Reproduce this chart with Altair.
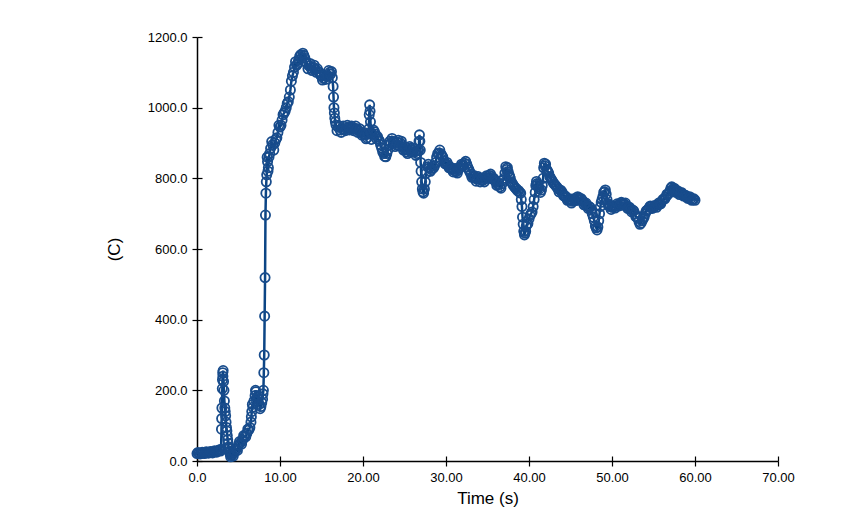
import altair as alt
import pandas as pd

# Time (s) - main readings
times = [
    0.0, 0.25, 0.5, 0.75, 1.0, 1.25, 1.5, 1.75, 2.0, 2.25, 2.5, 2.75,
    2.9, 2.95, 3.0, 3.05, 3.1, 3.15, 3.2, 3.3, 3.4, 3.5, 3.6, 3.7, 3.8, 3.9, 4.0, 4.1,
    4.25, 4.5, 4.75, 5.0, 5.25, 5.5, 5.75, 6.0, 6.25, 6.5, 6.6, 6.75, 7.0, 7.1, 7.25,
    7.5, 7.7, 7.9, 8.0, 8.1, 8.15, 8.2, 8.25, 8.3, 8.4, 8.5, 8.6, 8.75, 9.0, 9.25,
    9.5, 9.75, 10.0, 10.25, 10.5, 10.75, 11.0, 11.25, 11.5, 11.75, 12.0, 12.25, 12.5,
    12.75, 13.0, 13.25, 13.5, 13.75, 14.0, 14.25, 14.5, 14.75, 15.0, 15.25, 15.5,
    15.75, 16.0, 16.2, 16.4, 16.5, 16.6, 16.75, 17.0, 17.25, 17.5, 17.75, 18.0,
    18.25, 18.5, 18.75, 19.0, 19.25, 19.5, 19.75, 20.0, 20.25, 20.5, 20.7, 20.8,
    20.9, 21.0, 21.25, 21.5, 21.75, 22.0, 22.25, 22.5, 22.75, 23.0, 23.25, 23.5,
    23.75, 24.0, 24.25, 24.5, 24.75, 25.0, 25.25, 25.5, 25.75, 26.0, 26.25, 26.5,
    26.7, 26.8, 26.9, 27.0, 27.15, 27.3, 27.5, 27.75, 28.0, 28.25, 28.5, 28.75,
    29.0, 29.25, 29.5, 29.75, 30.0, 30.25, 30.5, 30.75, 31.0, 31.25, 31.5, 31.75,
    32.0, 32.25, 32.5, 32.75, 33.0, 33.25, 33.5, 33.75, 34.0, 34.25, 34.5, 34.75,
    35.0, 35.25, 35.5, 35.75, 36.0, 36.25, 36.5, 36.75, 37.0, 37.2, 37.4, 37.6,
    37.75, 38.0, 38.25, 38.5, 38.75, 39.0, 39.15, 39.3, 39.45, 39.6, 39.75, 40.0,
    40.25, 40.5, 40.75, 40.9, 41.0, 41.25, 41.5, 41.7, 41.85, 42.0, 42.25, 42.5,
    42.75, 43.0, 43.25, 43.5, 43.75, 44.0, 44.25, 44.5, 44.75, 45.0, 45.25, 45.5,
    45.75, 46.0, 46.25, 46.5, 46.75, 47.0, 47.25, 47.5, 47.75, 48.0, 48.2, 48.4,
    48.6, 48.8, 49.0, 49.2, 49.4, 49.6, 49.8, 50.0, 50.25, 50.5, 50.75, 51.0,
    51.25, 51.5, 51.75, 52.0, 52.25, 52.5, 52.75, 53.0, 53.25, 53.5, 53.75, 54.0,
    54.25, 54.5, 54.75, 55.0, 55.25, 55.5, 55.75, 56.0, 56.25, 56.5, 56.75, 57.0,
    57.2, 57.4, 57.6, 57.8, 58.0, 58.25, 58.5, 58.75, 59.0, 59.25, 59.5, 59.75, 60.0,
]

# Temperature (C) - main readings
temps = [
    21, 22, 22, 23, 23, 24, 25, 25, 26, 27, 28, 30,
    33, 90, 150, 205, 250, 256, 225, 170, 140, 110, 85, 60, 40, 28, 20, 16,
    18, 25, 33, 45, 52, 60, 70, 78, 88, 110, 140, 152, 185, 196, 180,
    160, 154, 175, 200, 300, 410, 519, 696, 758, 810, 847, 830, 870, 904, 880,
    910, 930, 945, 965, 985, 1000, 1017, 1050, 1090, 1115, 1120, 1135, 1150,
    1154, 1140, 1125, 1118, 1112, 1115, 1108, 1110, 1100, 1090, 1083, 1080,
    1090, 1100, 1102, 1060, 1000, 970, 951, 945, 937, 940, 938, 942,
    945, 943, 940, 942, 940, 935, 930, 925, 923, 915, 940, 1008,
    960, 910, 937, 925, 918, 905, 885, 870, 861, 880, 905, 913,
    900, 895, 908, 900, 890, 882, 875, 880, 885, 880, 875, 870,
    880, 923, 880, 820, 770, 758, 790, 833, 830, 825, 830, 845,
    870, 880, 865, 850, 840, 838, 832, 825, 822, 819, 825, 832,
    838, 843, 840, 825, 812, 805, 800, 798, 800, 796, 795, 800,
    805, 808, 805, 800, 790, 782, 776, 785, 800, 833, 830, 810,
    800, 785, 776, 770, 765, 758, 720, 670, 640, 650, 670, 685,
    700, 720, 760, 791, 780, 770, 767, 800, 843, 840, 820, 805,
    795, 785, 778, 770, 767, 760, 750, 745, 740, 738, 735, 737,
    742, 745, 743, 735, 728, 722, 720, 710, 690, 665, 654, 680,
    720, 740, 760, 767, 740, 722, 720, 718, 720, 722, 725, 728,
    729, 727, 722, 718, 712, 710, 700, 690, 678, 673, 685, 700,
    710, 718, 720, 718, 722, 725, 727, 735, 742, 748, 755, 765,
    776, 770, 765, 762, 760, 758, 755, 752, 748, 745, 743, 740, 738,
]

# Time (s) - in-between readings (scatter of the measured band)
times_b = [
    0.12, 0.37, 0.62, 0.87, 1.12, 1.37, 1.62, 1.87, 2.12, 2.37, 2.62, 2.82,
    2.97, 3.07, 3.12, 3.25, 3.35, 3.45, 3.55, 3.65, 3.75, 3.85, 3.95, 4.05,
    4.17, 4.37, 4.62, 4.87, 5.12, 5.37, 5.62, 5.87, 6.12, 6.37, 6.55, 6.67,
    6.87, 7.05, 7.17, 7.37, 7.6, 7.8, 7.95, 8.05,
    8.35, 8.45, 8.55, 8.67, 8.87, 9.12, 9.37, 9.62, 9.87, 10.12, 10.37, 10.62,
    10.87, 11.12, 11.37, 11.62, 11.87, 12.12, 12.37, 12.62, 12.87, 13.12, 13.37,
    13.62, 13.87, 14.12, 14.37, 14.62, 14.87, 15.12, 15.37, 15.62, 15.87, 16.1,
    16.3, 16.45, 16.55, 16.67, 16.87, 17.12, 17.37, 17.62, 17.87, 18.12, 18.37,
    18.62, 18.87, 19.12, 19.37, 19.62, 19.87, 20.12, 20.37, 20.6, 20.75, 20.85,
    20.95, 21.12, 21.37, 21.62, 21.87, 22.12, 22.37, 22.62, 22.87, 23.12, 23.37,
    23.62, 23.87, 24.12, 24.37, 24.62, 24.87, 25.12, 25.37, 25.62, 25.87, 26.12,
    26.37, 26.6, 26.75, 26.85, 26.95, 27.07, 27.22, 27.4, 27.62, 27.87, 28.12,
    28.37, 28.62, 28.87, 29.12, 29.37, 29.62, 29.87, 30.12, 30.37, 30.62, 30.87,
    31.12, 31.37, 31.62, 31.87, 32.12, 32.37, 32.62, 32.87, 33.12, 33.37, 33.62,
    33.87, 34.12, 34.37, 34.62, 34.87, 35.12, 35.37, 35.62, 35.87, 36.12, 36.37,
    36.62, 36.87, 37.1, 37.3, 37.5, 37.67, 37.87, 38.12, 38.37, 38.62, 38.87,
    39.07, 39.22, 39.37, 39.52, 39.67, 39.87, 40.12, 40.37, 40.62, 40.82, 40.95,
    41.12, 41.37, 41.6, 41.77, 41.92, 42.12, 42.37, 42.62, 42.87, 43.12, 43.37,
    43.62, 43.87, 44.12, 44.37, 44.62, 44.87, 45.12, 45.37, 45.62, 45.87, 46.12,
    46.37, 46.62, 46.87, 47.12, 47.37, 47.62, 47.87, 48.1, 48.3, 48.5, 48.7,
    48.9, 49.1, 49.3, 49.5, 49.7, 49.9, 50.12, 50.37, 50.62, 50.87, 51.12, 51.37,
    51.62, 51.87, 52.12, 52.37, 52.62, 52.87, 53.12, 53.37, 53.62, 53.87, 54.12,
    54.37, 54.62, 54.87, 55.12, 55.37, 55.62, 55.87, 56.12, 56.37, 56.62, 56.87,
    57.1, 57.3, 57.5, 57.7, 57.9, 58.12, 58.37, 58.62, 58.87, 59.12, 59.37,
    59.62, 59.87,
]

# Temperature (C) - in-between readings
temps_b = [
    24, 20, 25, 21, 26, 22, 27, 23, 29, 25, 31, 28,
    120, 230, 240, 200, 150, 128, 95, 72, 50, 35, 24, 12,
    22, 14, 34, 30, 55, 48, 72, 68, 90, 95, 125, 160,
    170, 200, 170, 185, 148, 165, 190, 250,
    790, 860, 820, 860, 885, 895, 900, 915, 950, 950, 980, 990,
    1012, 1030, 1075, 1100, 1130, 1125, 1145, 1140, 1148, 1130, 1110,
    1125, 1105, 1120, 1100, 1102, 1092, 1078, 1090, 1088, 1105, 1095,
    1085, 1030, 985, 960, 935, 948, 930, 948, 935, 950, 937,
    948, 935, 948, 930, 940, 922, 930, 912, 925, 980, 990,
    930, 925, 932, 912, 910, 895, 875, 862, 870, 895, 900,
    905, 890, 902, 893, 905, 880, 888, 870, 890, 875, 885,
    865, 878, 905, 905, 845, 790, 762, 770, 815, 840, 820,
    835, 835, 860, 872, 870, 860, 842, 845, 830, 830, 818,
    828, 815, 830, 840, 836, 848, 832, 818, 803, 808, 792,
    805, 790, 800, 790, 807, 800, 812, 798, 795, 780, 785,
    772, 795, 815, 825, 818, 805, 790, 780, 772, 765, 760,
    740, 690, 650, 645, 665, 672, 695, 705, 740, 780, 785,
    775, 760, 780, 830, 835, 825, 815, 800, 790, 782, 775,
    762, 765, 752, 750, 738, 742, 730, 742, 737, 748, 738,
    740, 725, 730, 715, 718, 700, 680, 660, 662, 700, 732,
    748, 762, 755, 728, 725, 712, 722, 716, 728, 722, 732, 724,
    730, 715, 718, 705, 708, 692, 688, 670, 680, 690, 708,
    712, 722, 715, 723, 718, 730, 728, 740, 742, 755, 758,
    772, 768, 772, 760, 765, 754, 760, 750, 752, 743, 748,
    738, 742,
]

x_ticks = [0, 10, 20, 30, 40, 50, 60, 70]
y_ticks = [0, 200, 400, 600, 800, 1000, 1200]

df = pd.DataFrame({"t": times + times_b, "T": temps + temps_b}).sort_values("t")

FONT = "Liberation Sans"
LINE_COLOR = "#0c4585"
PT_COLOR = "#184c8c"

x_scale = alt.Scale(domain=[0, 70], nice=False, zero=False)
y_scale = alt.Scale(domain=[0, 1200], nice=False)

x_axis_main = alt.Axis(
    orient="bottom", values=x_ticks,
    labelExpr="datum.value == 0 ? '0.0' : format(datum.value, '.2f')",
    title="Time (s)", grid=False, domainColor="black", tickColor="black",
    tickSize=5, domainWidth=1.5, tickWidth=1.2, labelFont=FONT, labelFontSize=13,
    labelColor="black", titleFont=FONT, titleFontSize=17, titleFontWeight="normal",
    titleColor="black", labelPadding=5, titlePadding=6, labelFlush=False,
)
y_axis_main = alt.Axis(
    orient="left", values=y_ticks, format=".1f", title="(C)", grid=False,
    domainColor="black", tickColor="black", tickSize=5, domainWidth=1.5,
    tickWidth=1.2, labelFont=FONT, labelFontSize=13, labelColor="black",
    titleFont=FONT, titleFontSize=17, titleFontWeight="normal", titleColor="black",
    labelPadding=5, titlePadding=24, labelFlush=False,
)
x_axis_inner = alt.Axis(
    orient="bottom", values=x_ticks, labels=False, domain=False, title=None,
    grid=False, tickColor="black", tickSize=5, tickWidth=1.2, offset=-5,
)
y_axis_inner = alt.Axis(
    orient="left", values=y_ticks, labels=False, domain=False, title=None,
    grid=False, tickColor="black", tickSize=5, tickWidth=1.2, offset=-5,
)

line = alt.Chart(df).mark_line(color=LINE_COLOR, strokeWidth=2.5).encode(
    x=alt.X("t:Q", scale=x_scale, axis=x_axis_main),
    y=alt.Y("T:Q", scale=y_scale, axis=y_axis_main),
    order="t:Q",
)

points = alt.Chart(df).mark_point(
    shape="circle", filled=False, color=PT_COLOR, size=85, strokeWidth=1.8, opacity=1
).encode(
    x=alt.X("t:Q", scale=x_scale, axis=x_axis_inner),
    y=alt.Y("T:Q", scale=y_scale, axis=y_axis_inner),
)

chart = (
    alt.layer(line, points)
    .resolve_axis(x="independent", y="independent")
    .properties(
        width=581, height=424,
        autosize=alt.AutoSizeParams(type="none"),
        padding={"left": 197, "top": 37, "right": 83, "bottom": 63},
        background="white",
    )
    .configure_view(stroke=None)
)

chart.save("out.html", embed_options={"renderer": "svg", "actions": False})
